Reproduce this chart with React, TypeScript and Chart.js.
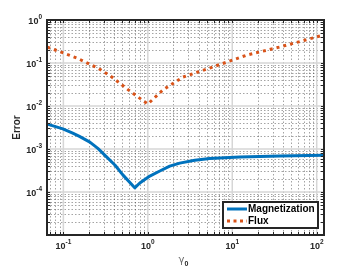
import React, { useEffect, useRef } from 'react';
import { Chart, registerables } from 'chart.js';

Chart.register(...registerables);

// ---- data ----
const gammaMag = [0.0646, 0.0986, 0.129, 0.155, 0.206, 0.256, 0.327, 0.41, 0.506, 0.70, 0.804, 1.056, 1.387, 1.82, 2.39, 3.6, 5.4, 12.3, 36.5, 121];
const errMag = [0.0038, 0.00293, 0.00235, 0.00197, 0.00145, 0.00103, 0.00065, 0.00042, 0.00025, 0.000125, 0.000162, 0.000235, 0.000308, 0.0004, 0.00047, 0.00055, 0.0006, 0.00065, 0.00069, 0.00072];
const gammaFlux = [0.0646, 0.144, 0.256, 0.375, 0.612, 1.0, 1.51, 2.6, 5.9, 14.9, 36.5, 121];
const errFlux = [0.235, 0.131, 0.0766, 0.0472, 0.0223, 0.0111, 0.0236, 0.047, 0.081, 0.153, 0.235, 0.448];
const seriesNames = ['Magnetization', 'Flux'];
const seriesColors = ['#0072BD', '#D95319'];
const xTickValues = [0.1, 1, 10, 100];
const xTickExps = ['-1', '0', '1', '2'];
const yTickValues = [1, 0.1, 0.01, 0.001, 0.0001];
const yTickExps = ['0', '-1', '-2', '-3', '-4'];
const xRange = [0.064, 122];
const yRange = [1e-5, 1];
const xTitleMain = 'γ';
const xTitleSub = '0';
const yTitle = 'Error';

const AXIS = '#262626';
const FONT = '"Liberation Sans", Arial, sans-serif';

function logSteps(min: number, max: number): { v: number; major: boolean }[] {
  const out: { v: number; major: boolean }[] = [];
  const e0 = Math.floor(Math.log10(min));
  const e1 = Math.ceil(Math.log10(max));
  for (let e = e0; e <= e1; e++) {
    for (let m = 1; m <= 9; m++) {
      const v = m * Math.pow(10, e);
      if (v >= min * 0.9999 && v <= max * 1.0001) out.push({ v, major: m === 1 });
    }
  }
  return out;
}

const matlabPlugin = {
  id: 'matlabLook',
  beforeDatasetsDraw(chart: any) {
    const { ctx, chartArea: a, scales } = chart;
    const xs = scales.x, ys = scales.y;
    const xt = logSteps(xRange[0], xRange[1]);
    const yt = logSteps(yRange[0], yRange[1]);
    ctx.save();
    // minor dotted grid
    ctx.strokeStyle = 'rgba(38,38,38,0.42)';
    ctx.lineWidth = 1;
    ctx.setLineDash([1.5, 2]);
    ctx.beginPath();
    xt.filter(t => !t.major).forEach(t => {
      const p = Math.round(xs.getPixelForValue(t.v)) + 0.5;
      ctx.moveTo(p, a.top); ctx.lineTo(p, a.bottom);
    });
    yt.filter(t => !t.major).forEach(t => {
      const p = Math.round(ys.getPixelForValue(t.v)) + 0.5;
      ctx.moveTo(a.left, p); ctx.lineTo(a.right, p);
    });
    ctx.stroke();
    // major solid grid
    ctx.setLineDash([]);
    ctx.strokeStyle = '#d6d6d6';
    ctx.lineWidth = 1.5;
    ctx.beginPath();
    xt.filter(t => t.major).forEach(t => {
      const p = xs.getPixelForValue(t.v);
      ctx.moveTo(p, a.top); ctx.lineTo(p, a.bottom);
    });
    yt.filter(t => t.major).forEach(t => {
      const p = ys.getPixelForValue(t.v);
      ctx.moveTo(a.left, p); ctx.lineTo(a.right, p);
    });
    ctx.stroke();
    ctx.restore();
  },
  afterDatasetsDraw(chart: any) {
    const { ctx, chartArea: a, scales } = chart;
    const xs = scales.x, ys = scales.y;
    const xt = logSteps(xRange[0], xRange[1]);
    const yt = logSteps(yRange[0], yRange[1]);
    ctx.save();
    // inward ticks on all sides
    ctx.strokeStyle = AXIS;
    ctx.lineWidth = 1;
    ctx.beginPath();
    const tl = 3;
    xt.forEach(t => {
      const p = Math.round(xs.getPixelForValue(t.v)) + 0.5;
      ctx.moveTo(p, a.bottom); ctx.lineTo(p, a.bottom - tl);
      ctx.moveTo(p, a.top); ctx.lineTo(p, a.top + tl);
    });
    yt.forEach(t => {
      const p = Math.round(ys.getPixelForValue(t.v)) + 0.5;
      ctx.moveTo(a.left, p); ctx.lineTo(a.left + tl, p);
      ctx.moveTo(a.right, p); ctx.lineTo(a.right - tl, p);
    });
    ctx.stroke();
    // box
    ctx.lineWidth = 2;
    ctx.strokeRect(a.left, a.top, a.right - a.left, a.bottom - a.top);

    // tick labels
    ctx.fillStyle = AXIS;
    ctx.textBaseline = 'middle';
    const baseFont = `bold 9px ${FONT}`;
    const supFont = `bold 6.5px ${FONT}`;
    xTickValues.forEach((v, i) => {
      const p = xs.getPixelForValue(v);
      ctx.font = baseFont;
      const w1 = ctx.measureText('10').width;
      ctx.font = supFont;
      const w2 = ctx.measureText(xTickExps[i]).width;
      const start = p - (w1 + w2) / 2;
      ctx.textAlign = 'left';
      ctx.font = baseFont;
      ctx.fillText('10', start, a.bottom + 12);
      ctx.font = supFont;
      ctx.fillText(xTickExps[i], start + w1, a.bottom + 7.5);
    });
    yTickValues.forEach((v, i) => {
      const p = ys.getPixelForValue(v);
      const right = a.left - 5;
      ctx.font = supFont;
      const w2 = ctx.measureText(yTickExps[i]).width;
      ctx.textAlign = 'right';
      ctx.fillText(yTickExps[i], right, p - 3);
      ctx.font = baseFont;
      ctx.fillText('10', right - w2, p + 1.5);
    });

    // axis titles
    ctx.save();
    ctx.translate(17, (a.top + a.bottom) / 2);
    ctx.rotate(-Math.PI / 2);
    ctx.textAlign = 'center';
    ctx.font = `bold 10px ${FONT}`;
    ctx.fillText(yTitle, 0, 0);
    ctx.restore();

    const cx = (a.left + a.right) / 2;
    ctx.textAlign = 'left';
    ctx.font = `10px "DejaVu Sans", sans-serif`;
    ctx.fillStyle = '#666';
    const gw = ctx.measureText(xTitleMain).width;
    ctx.fillText(xTitleMain, cx - 7, 260);
    ctx.fillStyle = AXIS;
    ctx.font = `bold 7px ${FONT}`;
    ctx.fillText(xTitleSub, cx - 7 + gw, 264);

    // legend
    const lx = 223, ly = 202, lw = 95, lh = 26;
    ctx.fillStyle = '#ffffff';
    ctx.fillRect(lx, ly, lw, lh);
    ctx.strokeStyle = AXIS;
    ctx.lineWidth = 2;
    ctx.strokeRect(lx, ly, lw, lh);
    const rows = [209, 221];
    seriesNames.forEach((name, i) => {
      ctx.strokeStyle = seriesColors[i];
      ctx.lineWidth = 3;
      ctx.setLineDash(i === 1 ? [3, 3.5] : []);
      ctx.beginPath();
      ctx.moveTo(227, rows[i]);
      ctx.lineTo(247, rows[i]);
      ctx.stroke();
      ctx.setLineDash([]);
      ctx.fillStyle = '#000';
      ctx.font = `bold 10px ${FONT}`;
      ctx.textAlign = 'left';
      ctx.fillText(name, 248, rows[i] + 0.5);
    });
    ctx.restore();
  },
};

export default function App() {
  const ref = useRef<HTMLCanvasElement | null>(null);
  useEffect(() => {
    if (!ref.current) return;
    const chart = new Chart(ref.current, {
      type: 'line',
      data: {
        datasets: [
          {
            label: seriesNames[0],
            data: gammaMag.map((g, i) => ({ x: g, y: errMag[i] })),
            borderColor: seriesColors[0],
            borderWidth: 3,
            borderJoinStyle: 'round',
            pointRadius: 0,
            tension: 0,
            fill: false,
          },
          {
            label: seriesNames[1],
            data: gammaFlux.map((g, i) => ({ x: g, y: errFlux[i] })),
            borderColor: seriesColors[1],
            borderWidth: 3,
            borderDash: [3, 4],
            borderCapStyle: 'butt',
            pointRadius: 0,
            tension: 0,
            fill: false,
          },
        ],
      },
      options: {
        animation: false,
        responsive: false,
        maintainAspectRatio: false,
        devicePixelRatio: 1,
        layout: { padding: { left: 47, top: 20, right: 35, bottom: 34 } },
        plugins: { legend: { display: false }, tooltip: { enabled: false }, title: { display: false } },
        scales: {
          x: {
            type: 'logarithmic',
            min: xRange[0],
            max: xRange[1],
            ticks: { display: false },
            grid: { display: false, drawTicks: false },
            border: { display: false },
          },
          y: {
            type: 'logarithmic',
            min: yRange[0],
            max: yRange[1],
            ticks: { display: false },
            grid: { display: false, drawTicks: false },
            border: { display: false },
          },
        },
      },
      plugins: [matlabPlugin],
    } as any);
    return () => chart.destroy();
  }, []);
  return (
    <div style={{ position: 'fixed', left: 0, top: 0, width: 359, height: 269, background: '#fff' }}>
      <canvas ref={ref} width={359} height={269} style={{ width: 359, height: 269 }} />
    </div>
  );
}
